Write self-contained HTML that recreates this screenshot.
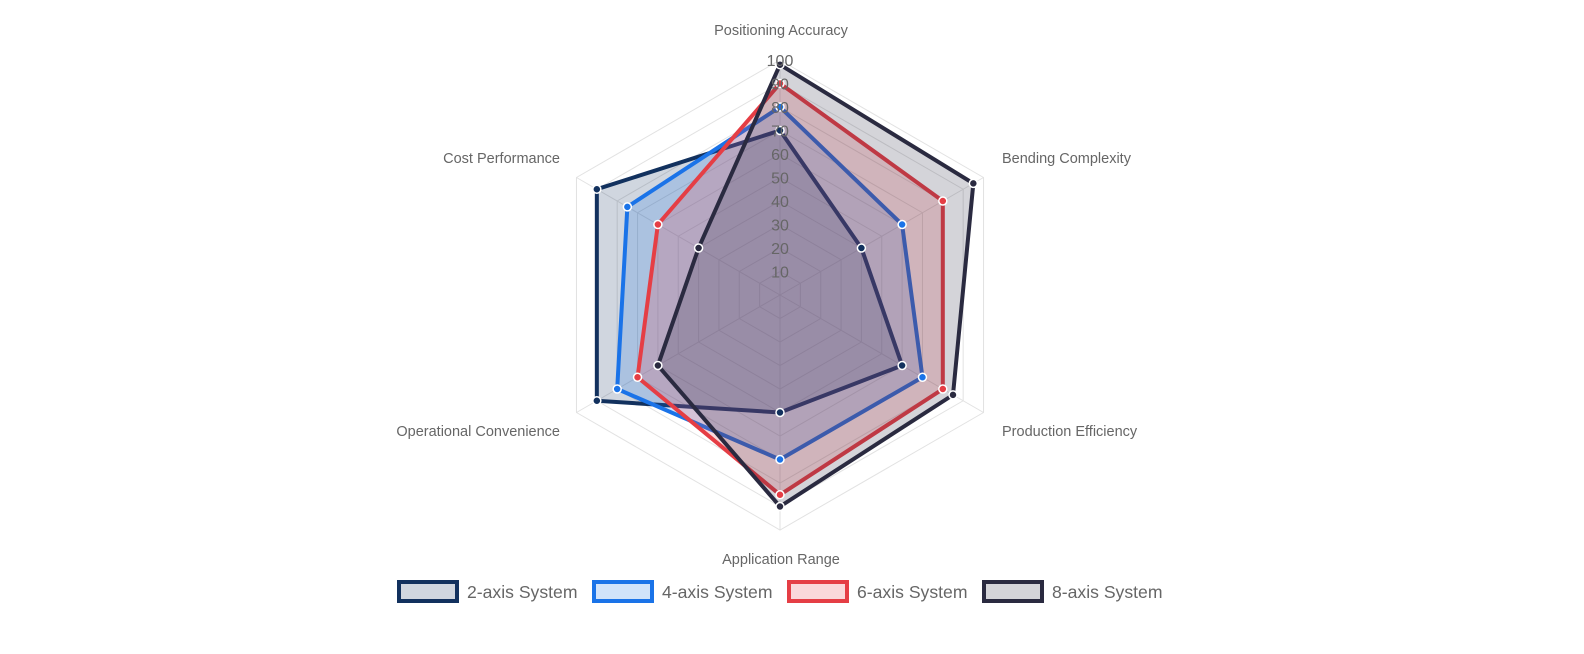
<!DOCTYPE html>
<html><head><meta charset="utf-8"><style>
html,body{margin:0;padding:0;background:#fff;}
svg{display:block;font-family:"Liberation Sans",Arial,sans-serif;}
</style></head><body>
<svg width="1584" height="654" viewBox="0 0 1584 654" xmlns="http://www.w3.org/2000/svg">
<g id="grid" fill="none" stroke="#e2e2e2" stroke-width="1"></g>
<g id="data"></g>
<g id="ticks" font-size="16" fill="#666" text-anchor="middle"></g>
<g font-size="14.5" fill="#666">
<text x="781" y="35" text-anchor="middle">Positioning Accuracy</text>
<text x="1002" y="163">Bending Complexity</text>
<text x="1002" y="436">Production Efficiency</text>
<text x="781" y="564" text-anchor="middle">Application Range</text>
<text x="560" y="436" text-anchor="end">Operational Convenience</text>
<text x="560" y="163" text-anchor="end">Cost Performance</text>
</g>
<g font-size="17.6" fill="#666" stroke-width="4">
<rect x="399" y="582" width="58" height="19" fill="rgba(18,49,94,0.2)" stroke="#12315e"/><text x="467" y="598">2-axis System</text>
<rect x="594" y="582" width="58" height="19" fill="rgba(26,115,232,0.2)" stroke="#1a73e8"/><text x="662" y="598">4-axis System</text>
<rect x="789" y="582" width="58" height="19" fill="rgba(229,62,69,0.2)" stroke="#e53e45"/><text x="857" y="598">6-axis System</text>
<rect x="984" y="582" width="58" height="19" fill="rgba(42,42,64,0.2)" stroke="#2a2a40"/><text x="1052" y="598">8-axis System</text>
</g>
<script>
var cx=780,cy=295,R=235,NS="http://www.w3.org/2000/svg";
function pt(i,v){var a=-Math.PI/2+i*Math.PI/3,r=R*v/100;return[cx+r*Math.cos(a),cy+r*Math.sin(a)];}
function el(t,at,p){var e=document.createElementNS(NS,t);for(var k in at)e.setAttribute(k,at[k]);p.appendChild(e);return e;}
var g=document.getElementById('grid');
for(var s=10;s<=100;s+=10){var ps=[];for(var i=0;i<6;i++)ps.push(pt(i,s).join(','));el('polygon',{points:ps.join(' ')},g);}
for(var i=0;i<6;i++){var p=pt(i,100);el('line',{x1:cx,y1:cy,x2:p[0],y2:p[1]},g);}
var sets=[
["#12315e","rgba(18,49,94,0.2)",[70,40,60,50,90,90]],
["#1a73e8","rgba(26,115,232,0.2)",[80,60,70,70,80,75]],
["#e53e45","rgba(229,62,69,0.2)",[90,80,80,85,70,60]],
["#2a2a40","rgba(42,42,64,0.2)",[98,95,85,90,60,40]]];
var d=document.getElementById('data');
sets.forEach(function(S){var ps=S[2].map(function(v,i){return pt(i,v).join(',');});
el('polygon',{points:ps.join(' '),fill:S[1],stroke:S[0],'stroke-width':4,'stroke-linejoin':'miter'},d);});
sets.forEach(function(S){S[2].forEach(function(v,i){var p=pt(i,v);el('circle',{cx:p[0],cy:p[1],r:4,fill:S[0],stroke:'#fff','stroke-width':1.5},d);});});
var t=document.getElementById('ticks');
for(var s=10;s<=100;s+=10){var e=el('text',{x:cx,y:cy-R*s/100+6},t);e.textContent=s;}
</script>
</svg>
</body></html>
